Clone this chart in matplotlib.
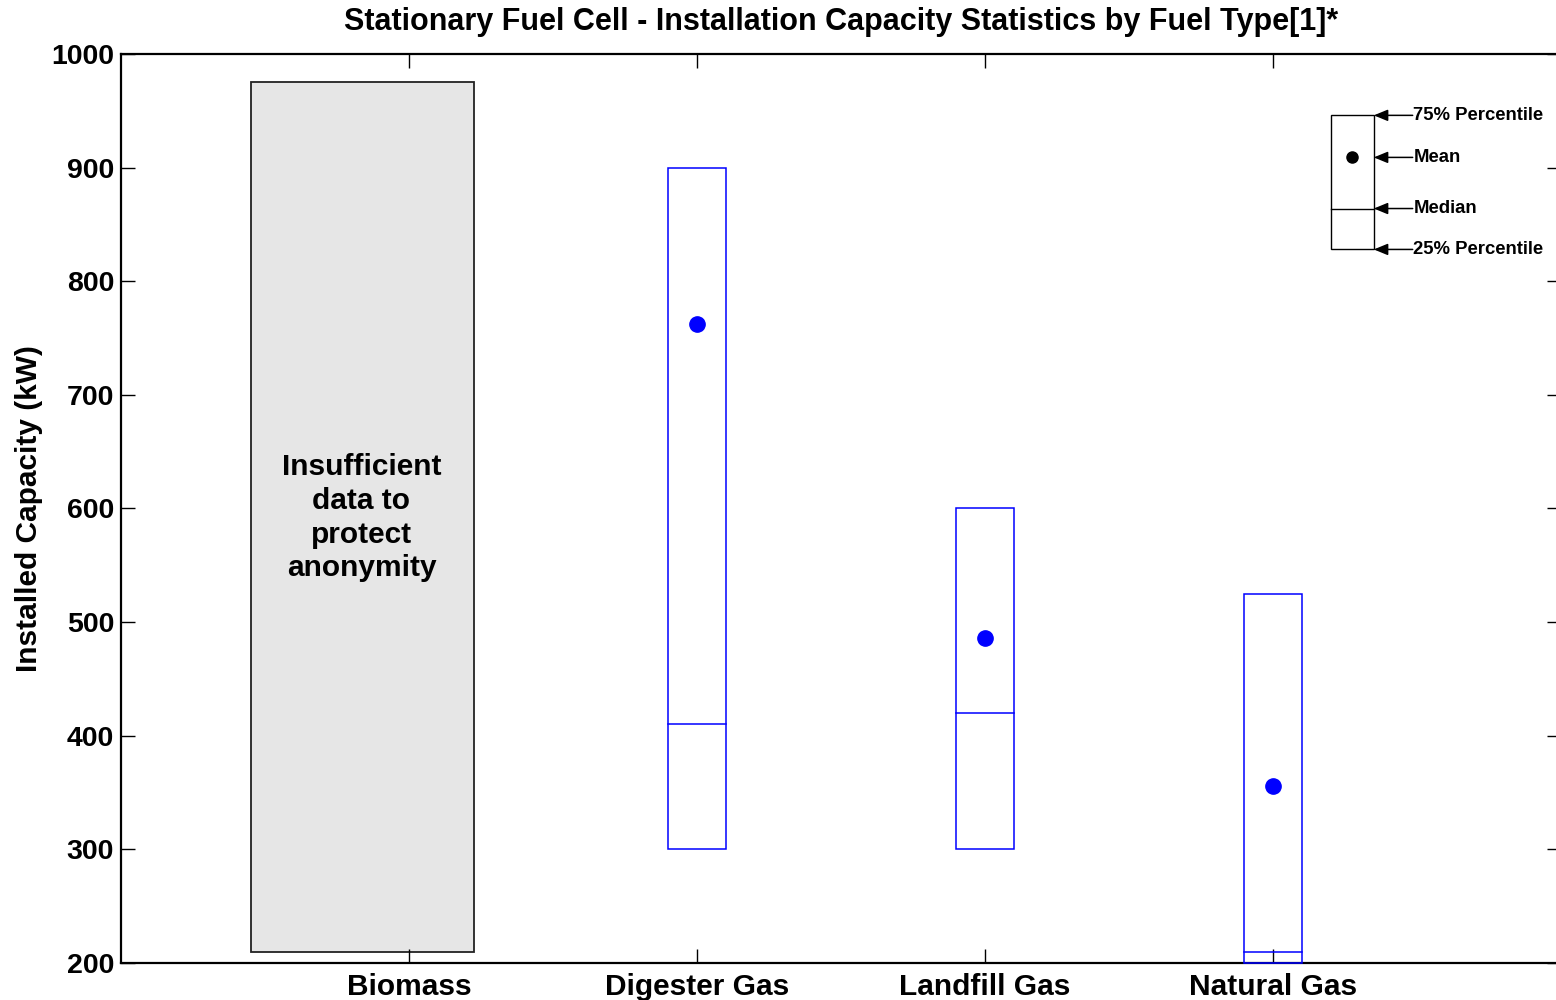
import numpy as np
import matplotlib
matplotlib.use("Agg")
import matplotlib.pyplot as plt
from matplotlib.patches import Rectangle

plt.rcParams['font.family'] = ['Liberation Sans', 'DejaVu Sans']

categories = ['Biomass', 'Digester Gas', 'Landfill Gas', 'Natural Gas']
q25 = [np.nan, 300, 300, 200]
q75 = [np.nan, 900, 600, 525]
median = [np.nan, 410, 420, 210]
mean = [np.nan, 762, 486, 356]

# placeholder range for the suppressed category
hidden_low, hidden_high = 210, 975
hidden_text = "Insufficient\ndata to\nprotect\nanonymity"

# legend key values
key_q25, key_q75, key_median, key_mean = 828, 946, 864, 909
key_labels = ['75% Percentile', 'Mean', 'Median', '25% Percentile']

title = "Stationary Fuel Cell - Installation Capacity Statistics by Fuel Type[1]*"
ylabel = "Installed Capacity (kW)"
yticks = [200, 300, 400, 500, 600, 700, 800, 900, 1000]

fig = plt.figure(figsize=(15.56, 10), dpi=100)
ax = fig.add_axes([121/1556, 1-963/1000, (1561-121)/1556, (963-54)/1000])

x = np.arange(1, len(categories)+1)
ax.set_xlim(0, 5)
ax.set_ylim(200, 1000)

blue = '#0000ff'
w = 0.2
for i, xi in enumerate(x):
    if np.isnan(q25[i]):
        ax.add_patch(Rectangle((xi-0.55, hidden_low), 0.775, hidden_high-hidden_low,
                               facecolor='#e6e6e6', edgecolor='#222222', linewidth=1.3, zorder=1))
        ax.text(xi-0.165, 592, hidden_text, ha='center', va='center',
                fontsize=21.5, fontweight='bold', linespacing=1.27)
        continue
    ax.add_patch(Rectangle((xi-w/2, q25[i]), w, q75[i]-q25[i], facecolor='none',
                           edgecolor=blue, linewidth=1.1, zorder=3, clip_on=False))
    ax.plot([xi-w/2, xi+w/2], [median[i], median[i]], color=blue, lw=1.1, zorder=3)
    ax.plot(xi, mean[i], 'o', color=blue, markersize=11, zorder=4)

# key
kx0, kx1 = 4.20, 4.35
ax.add_patch(Rectangle((kx0, key_q25), kx1-kx0, key_q75-key_q25, facecolor='none',
                       edgecolor='black', linewidth=1.0, zorder=3))
ax.plot([kx0, kx1], [key_median, key_median], color='black', lw=1.0, zorder=3)
ax.plot((kx0+kx1)/2, key_mean, 'o', color='black', markersize=8, zorder=4)
for yv, lab in zip([key_q75, key_mean, key_median, key_q25], key_labels):
    ax.annotate('', xy=(kx1, yv), xytext=(kx1+0.135, yv),
                arrowprops=dict(arrowstyle='-|>,head_length=0.85,head_width=0.35', color='black', lw=1.1,
                                shrinkA=0, shrinkB=0))
    ax.text(kx1+0.137, yv, lab, ha='left', va='center', fontsize=13.3, fontweight='bold')

ax.set_xticks(x)
ax.set_xticklabels(categories, fontsize=21.5, fontweight='bold')
ax.set_yticks(yticks)
ax.set_yticklabels([str(v) for v in yticks], fontsize=20.5, fontweight='bold')
ax.tick_params(axis='both', direction='in', length=10, width=1.0, top=True, right=True, pad=5)
ax.tick_params(axis='x', pad=7.5)
for s in ax.spines.values():
    s.set_linewidth(1.6)
ax.set_ylabel(ylabel, fontsize=21.5, fontweight='bold', labelpad=6)
ax.set_title(title, fontsize=22, fontweight='bold', pad=17)

fig.savefig('out.png', dpi=100)
